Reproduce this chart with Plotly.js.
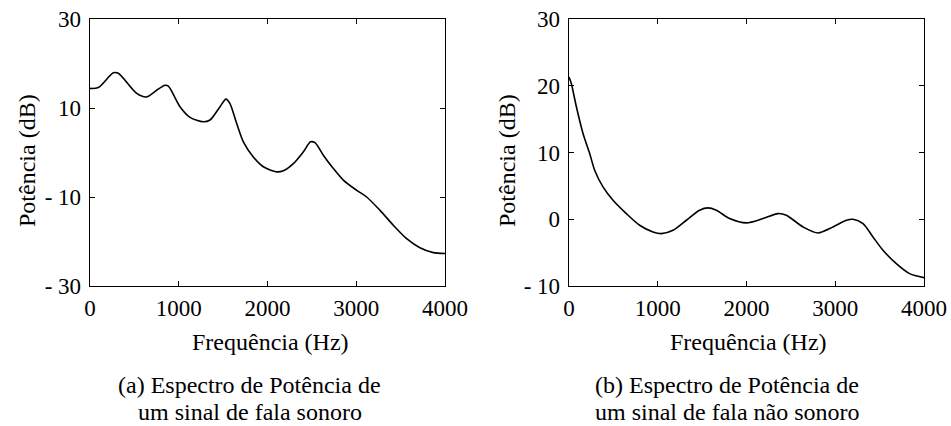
<!DOCTYPE html>
<html>
<head>
<meta charset="utf-8">
<script src="https://cdn.plot.ly/plotly-3.0.1.min.js"></script>
<style>html,body{margin:0;padding:0;background:#fff;}</style>
</head>
<body>
<div id="chart"></div>
<script>
// (a) voiced speech power spectrum
const freqA = [0, 94, 263, 319, 526, 639, 751, 845, 883, 1014, 1127, 1277, 1352, 1465, 1532, 1577, 1653, 1728, 1840, 1953, 2103, 2178, 2291, 2404, 2486, 2535, 2629, 2742, 2854, 3005, 3117, 3268, 3418, 3568, 3718, 3869, 4000];
const powA  = [14.4, 14.6, 17.9, 17.8, 13.3, 12.5, 14.0, 15.1, 14.9, 10.3, 7.9, 6.9, 7.3, 10.3, 12.0, 11.0, 6.5, 2.4, -1.0, -3.2, -4.35, -4.1, -2.5, 0.15, 2.4, 2.2, -0.6, -3.6, -6.2, -8.5, -10.0, -13.0, -16.35, -19.35, -21.4, -22.5, -22.7];
// (b) unvoiced speech power spectrum
const freqB = [0, 26, 83, 158, 233, 289, 383, 496, 646, 796, 946, 1040, 1172, 1322, 1472, 1566, 1660, 1810, 1998, 2186, 2355, 2449, 2637, 2806, 2975, 3125, 3200, 3313, 3425, 3538, 3688, 3838, 4000];
const powB  = [21.3, 20.35, 16.85, 12.85, 9.85, 7.35, 4.85, 2.85, 0.85, -0.9, -1.9, -2.15, -1.65, -0.15, 1.35, 1.7, 1.35, 0.1, -0.55, 0.1, 0.85, 0.6, -1.15, -2.05, -1.15, -0.15, 0, -0.65, -2.65, -4.65, -6.65, -8.15, -8.75];

const xTicks = [0, 1000, 2000, 3000, 4000];
const xTickText = ['0', '1000', '2000', '3000', '4000'];
const yTicksA = [-30, -10, 10, 30];
const yTickTextA = ['- 30', '- 10', '10', '30'];
const yTicksB = [-10, 0, 10, 20, 30];
const yTickTextB = ['- 10', '0', '10', '20', '30'];

const xTitle = 'Frequência (Hz)';
const yTitle = 'Potência (dB)';
const captionA = ['(a) Espectro de Potência de', 'um sinal de fala sonoro'];
const captionB = ['(b) Espectro de Potência de', 'um sinal de fala não sonoro'];

const FONT = 'Liberation Serif';
const W = 951, H = 426;
const px = v => v / W;
const py = v => 1 - v / H;

const traces = [
  {x: freqA, y: powA, xaxis: 'x', yaxis: 'y', mode: 'lines', line: {color: '#000', width: 1.6, shape: 'spline', smoothing: 0.8}, hoverinfo: 'skip'},
  {x: freqB, y: powB, xaxis: 'x2', yaxis: 'y2', mode: 'lines', line: {color: '#000', width: 1.6, shape: 'spline', smoothing: 0.8}, hoverinfo: 'skip'}
];

const axCommon = {
  showline: true, linecolor: '#000', linewidth: 1.3, mirror: 'ticks',
  ticks: 'inside', ticklen: 5, tickwidth: 1, tickcolor: '#000',
  showgrid: false, zeroline: false,
  tickfont: {family: FONT, size: 23, color: '#000'}
};

const layout = {
  width: W, height: H,
  margin: {l: 0, r: 0, t: 0, b: 0},
  paper_bgcolor: '#fff', plot_bgcolor: '#fff',
  showlegend: false,
  font: {family: FONT, color: '#000'},
  xaxis: Object.assign({}, axCommon, {domain: [px(90), px(445)], range: [0, 4000], tickvals: xTicks, ticktext: xTickText, anchor: 'y', ticklabelstandoff: 1}),
  yaxis: Object.assign({}, axCommon, {domain: [py(286), py(19)], range: [-30, 30], tickvals: yTicksA, ticktext: yTickTextA, anchor: 'x', ticklabelstandoff: 3}),
  xaxis2: Object.assign({}, axCommon, {domain: [px(569), px(924)], range: [0, 4000], tickvals: xTicks, ticktext: xTickText, anchor: 'y2', ticklabelstandoff: 1}),
  yaxis2: Object.assign({}, axCommon, {domain: [py(286), py(19)], range: [-10, 30], tickvals: yTicksB, ticktext: yTickTextB, anchor: 'x2', ticklabelstandoff: 3}),
  annotations: []
};

function ann(text, x, y, size, angle) {
  layout.annotations.push({
    text: text, xref: 'paper', yref: 'paper', x: px(x), y: py(y),
    xanchor: 'center', yanchor: 'middle', showarrow: false, textangle: angle || 0,
    font: {family: FONT, size: size, color: '#000'}
  });
}
ann(yTitle, 27, 161, 24, -90);
ann(yTitle, 507, 161, 24, -90);
ann(xTitle, 270, 342, 24);
ann(xTitle, 748, 342, 24);
ann(captionA[0], 250, 385, 24);
ann(captionA[1], 250, 412, 24);
ann(captionB[0], 727, 385, 24);
ann(captionB[1], 727, 412, 24);

Plotly.newPlot('chart', traces, layout, {staticPlot: true, displayModeBar: false});
</script>
</body>
</html>
